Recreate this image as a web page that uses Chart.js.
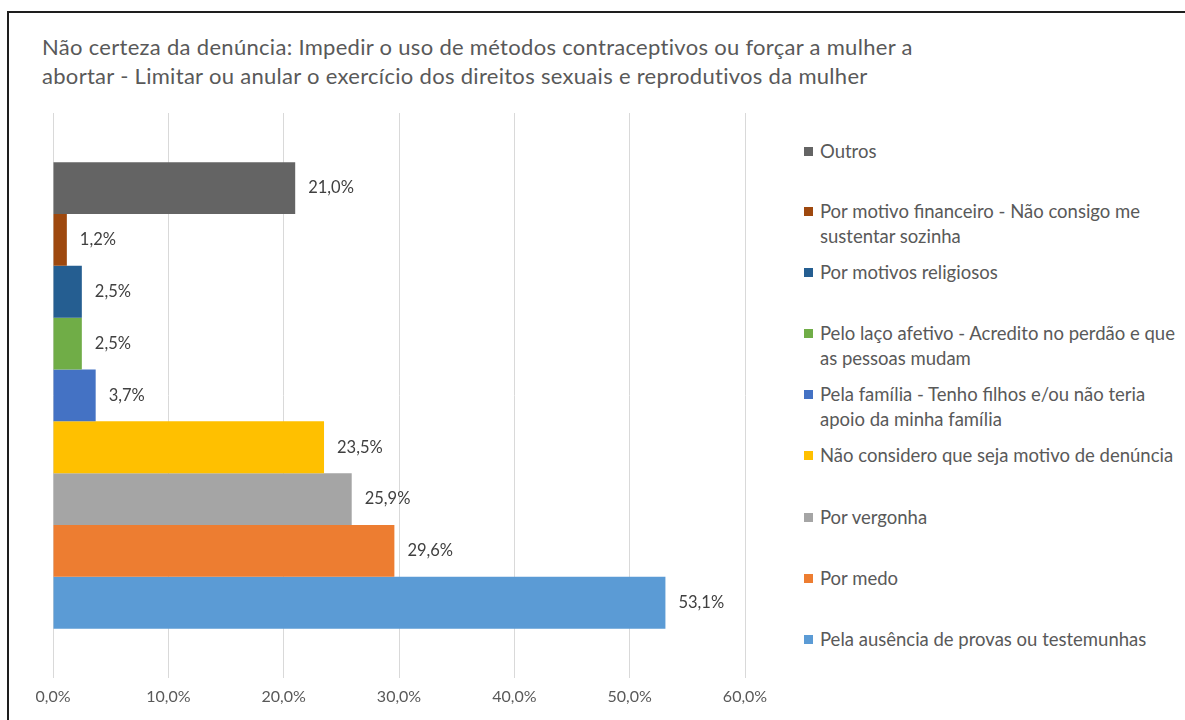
<!DOCTYPE html>
<html>
<head>
<meta charset="utf-8">
<script src="https://cdn.jsdelivr.net/npm/chart.js@4"></script>
<style>
  html, body { margin: 0; padding: 0; background: #fff; }
  body { width: 1185px; height: 720px; position: relative; overflow: hidden; font-family: "Lato", sans-serif; }
  #frame { position: absolute; left: 7px; top: 11px; width: 1200px; height: 730px; border-left: 2px solid #1e1e1e; border-top: 2px solid #1e1e1e; }
  #title { position: absolute; left: 42px; top: 32px; font-size: 22px; letter-spacing: 0.3px; line-height: 29px; color: #595959; white-space: nowrap; }
  #wrap { position: absolute; left: 20px; top: 100px; width: 760px; height: 615px; }
  #legend { position: absolute; left: 804px; top: 0; }
  .item { position: absolute; left: 0; width: 380px; font-size: 18.5px; line-height: 25px; color: #595959; }
  .box { position: absolute; left: 0; top: 8px; width: 9px; height: 9px; }
  .txt { margin-left: 16px; display: block; width: 362px; }
</style>
</head>
<body>
<div id="frame"></div>
<div id="title">Não certeza da denúncia: Impedir o uso de métodos contraceptivos ou forçar a mulher a<br>abortar - Limitar ou anular o exercício dos direitos sexuais e reprodutivos da mulher</div>
<div id="wrap"><canvas id="chart"></canvas></div>
<div id="legend"></div>
<script>
// series, top to bottom as drawn
var seriesNames = [
    "Outros",
    "Por motivo financeiro - Não consigo me sustentar sozinha",
    "Por motivos religiosos",
    "Pelo laço afetivo - Acredito no perdão e que as pessoas mudam",
    "Pela família - Tenho filhos e/ou não teria apoio da minha família",
    "Não considero que seja motivo de denúncia",
    "Por vergonha",
    "Por medo",
    "Pela ausência de provas ou testemunhas"
];
var seriesValues = [21.0, 1.2, 2.5, 2.5, 3.7, 23.5, 25.9, 29.6, 53.1];
var seriesColors = ["#646464", "#9e480e", "#255e91", "#70ad47", "#4472c4", "#ffc000", "#a5a5a5", "#ed7d31", "#5b9bd5"];
var xTicks = [0, 10, 20, 30, 40, 50, 60];

function fmt(v) {
    return v.toFixed(1).replace(".", ",") + "%";
}

var datasets = seriesNames.map(function (name, i) {
    return {
        label: name,
        data: [seriesValues[i]],
        backgroundColor: seriesColors[i],
        borderWidth: 0,
        barPercentage: 1,
        categoryPercentage: 0.826
    };
});

// value labels at the end of each bar
var barLabels = {
    id: "barLabels",
    afterDatasetsDraw: function (chart) {
        var ctx = chart.ctx;
        ctx.save();
        ctx.font = "16.5px Lato";
        ctx.fillStyle = "#404040";
        ctx.textBaseline = "middle";
        ctx.textAlign = "left";
        chart.data.datasets.forEach(function (ds, i) {
            var bar = chart.getDatasetMeta(i).data[0];
            ctx.fillText(fmt(ds.data[0]), bar.x + 13, bar.y);
        });
        ctx.restore();
    }
};

var chart = new Chart(document.getElementById("chart"), {
    type: "bar",
    data: { labels: [""], datasets: datasets },
    options: {
        indexAxis: "y",
        responsive: true,
        maintainAspectRatio: false,
        animation: false,
        layout: { padding: { left: 33, right: 35, top: 13, bottom: 0 } },
        plugins: { legend: { display: false }, tooltip: { enabled: false } },
        scales: {
            y: { display: false },
            x: {
                min: xTicks[0],
                max: xTicks[xTicks.length - 1],
                afterBuildTicks: function (axis) {
                    axis.ticks = xTicks.map(function (v) { return { value: v }; });
                },
                grid: { color: "#d9d9d9", drawTicks: false },
                border: { display: false },
                ticks: {
                    padding: 9,
                    color: "#595959",
                    font: { family: "Lato", size: 16 },
                    maxRotation: 0,
                    callback: function (v) { return fmt(v); }
                }
            }
        }
    },
    plugins: [barLabels]
});

// legend built from the same arrays
var legendTops = [139, 199, 260, 321, 382, 443, 505, 566, 627];
var legend = document.getElementById("legend");
seriesNames.forEach(function (name, i) {
    var item = document.createElement("div");
    item.className = "item";
    item.style.top = legendTops[i] + "px";
    item.innerHTML = '<span class="box" style="background:' + seriesColors[i] + '"></span><span class="txt"></span>';
    item.querySelector(".txt").textContent = name;
    legend.appendChild(item);
});
</script>
</body>
</html>
